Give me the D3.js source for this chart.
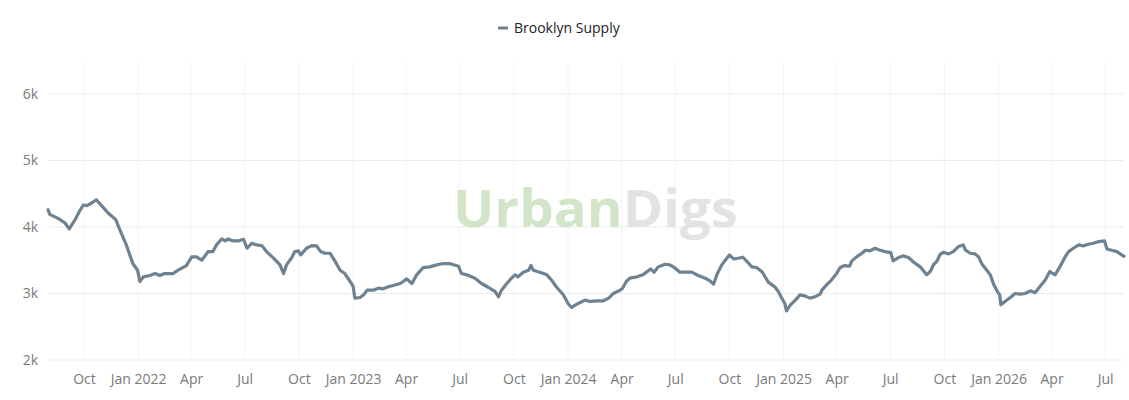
<!DOCTYPE html>
<html>
<head>
<meta charset="utf-8">
<script src="https://cdn.jsdelivr.net/npm/d3@7"></script>
<style>
    body { margin: 0; background: #fff; font-family: "Open Sans", sans-serif; }
    .axis text { fill: #7a7a7a; font-size: 14px; font-family: "Open Sans", sans-serif; }
    .legend text { fill: #222; font-size: 14px; }
</style>
</head>
<body>
<div id="chart"></div>
<script>
const seriesName = "Brooklyn Supply";

const dates2021 = ["2021-08-01","2021-08-04","2021-08-18","2021-08-30","2021-09-06","2021-09-16","2021-09-23","2021-09-30","2021-10-06","2021-10-14","2021-10-22","2021-10-31","2021-11-11","2021-11-24","2021-12-01","2021-12-12","2021-12-23","2021-12-31"];
const values2021 = [4260,4190,4130,4060,3970,4110,4230,4330,4320,4360,4410,4320,4210,4110,3955,3730,3450,3350];

const dates2022 = ["2022-01-04","2022-01-10","2022-01-21","2022-01-30","2022-02-07","2022-02-15","2022-03-01","2022-03-10","2022-03-24","2022-04-02","2022-04-10","2022-04-19","2022-04-30","2022-05-08","2022-05-14","2022-05-23","2022-05-29","2022-06-03","2022-06-11","2022-06-20","2022-06-29","2022-07-05","2022-07-13","2022-07-21","2022-07-30","2022-08-07","2022-08-18","2022-08-30","2022-09-05","2022-09-10","2022-09-19","2022-09-24","2022-09-30","2022-10-04","2022-10-14","2022-10-23","2022-10-31","2022-11-07","2022-11-14","2022-11-23","2022-12-01","2022-12-10","2022-12-18","2022-12-27"];
const values2022 = [3180,3250,3270,3300,3270,3300,3300,3350,3420,3550,3550,3500,3630,3630,3730,3820,3790,3820,3790,3790,3815,3680,3755,3730,3720,3630,3540,3430,3300,3430,3540,3630,3640,3580,3680,3720,3715,3630,3605,3605,3490,3350,3300,3180];

const dates2023 = ["2023-01-01","2023-01-04","2023-01-13","2023-01-19","2023-01-25","2023-02-04","2023-02-13","2023-02-21","2023-03-02","2023-03-10","2023-03-22","2023-03-27","2023-04-02","2023-04-11","2023-04-19","2023-04-30","2023-05-11","2023-05-23","2023-06-03","2023-06-14","2023-06-29","2023-07-04","2023-07-13","2023-07-27","2023-08-07","2023-08-19","2023-08-30","2023-09-05","2023-09-10","2023-09-19","2023-09-27","2023-10-03","2023-10-08","2023-10-17","2023-10-26","2023-10-30","2023-11-03","2023-11-14","2023-11-26","2023-12-04","2023-12-13","2023-12-24"];
const values2023 = [3110,2930,2940,2980,3050,3050,3080,3070,3100,3120,3150,3180,3220,3150,3280,3390,3400,3430,3450,3450,3410,3300,3280,3230,3150,3090,3030,2950,3050,3150,3230,3280,3250,3320,3350,3420,3350,3320,3280,3200,3090,2980];

const dates2024 = ["2024-01-01","2024-01-07","2024-01-16","2024-01-25","2024-01-30","2024-02-07","2024-02-19","2024-03-01","2024-03-10","2024-03-18","2024-03-27","2024-04-02","2024-04-09","2024-04-15","2024-04-27","2024-05-07","2024-05-16","2024-05-20","2024-05-26","2024-06-02","2024-06-14","2024-06-22","2024-07-01","2024-07-09","2024-07-18","2024-07-29","2024-08-09","2024-08-21","2024-08-29","2024-09-04","2024-09-10","2024-09-18","2024-09-24","2024-10-01","2024-10-08","2024-10-16","2024-10-24","2024-10-31","2024-11-08","2024-11-16","2024-11-25","2024-11-28","2024-12-06","2024-12-17","2024-12-23","2024-12-29"];
const values2024 = [2850,2790,2840,2880,2900,2880,2890,2890,2930,3000,3040,3070,3180,3230,3250,3280,3340,3370,3320,3400,3440,3430,3380,3320,3320,3320,3270,3230,3190,3140,3290,3430,3500,3580,3520,3530,3545,3480,3400,3390,3330,3290,3170,3100,3030,2930];

const dates2025 = ["2025-01-03","2025-01-06","2025-01-12","2025-01-21","2025-01-29","2025-02-07","2025-02-15","2025-02-23","2025-03-04","2025-03-07","2025-03-15","2025-03-24","2025-04-01","2025-04-07","2025-04-15","2025-04-23","2025-04-27","2025-05-05","2025-05-14","2025-05-20","2025-05-28","2025-06-05","2025-06-14","2025-06-22","2025-07-02","2025-07-06","2025-07-15","2025-07-23","2025-08-01","2025-08-10","2025-08-21","2025-09-01","2025-09-07","2025-09-13","2025-09-18","2025-09-24","2025-09-30","2025-10-08","2025-10-16","2025-10-25","2025-11-02","2025-11-06","2025-11-14","2025-11-22","2025-11-28","2025-12-04","2025-12-12","2025-12-18","2025-12-24","2025-12-30"];
const values2025 = [2850,2740,2820,2900,2980,2960,2930,2950,2990,3050,3130,3210,3300,3390,3420,3410,3490,3550,3605,3650,3640,3680,3650,3630,3615,3490,3540,3565,3540,3470,3400,3280,3330,3440,3480,3590,3620,3595,3630,3705,3730,3650,3605,3595,3550,3440,3350,3280,3130,3030];

const dates2026 = ["2026-01-03","2026-01-05","2026-01-12","2026-01-21","2026-01-29","2026-02-07","2026-02-15","2026-02-24","2026-03-04","2026-03-12","2026-03-21","2026-03-29","2026-04-07","2026-04-15","2026-04-24","2026-04-30","2026-05-08","2026-05-17","2026-05-25","2026-06-02","2026-06-11","2026-06-20","2026-06-30","2026-07-04","2026-07-12","2026-07-21","2026-07-29","2026-08-02"];
const values2026 = [2980,2830,2880,2940,3000,2990,3000,3040,3010,3100,3200,3330,3280,3400,3550,3630,3680,3730,3715,3740,3755,3780,3790,3670,3650,3630,3580,3560];

const yTicks = [2000, 3000, 4000, 5000, 6000];

document.addEventListener('DOMContentLoaded', function() {
    drawChart();
});

function drawChart() {
    const parse = d3.timeParse("%Y-%m-%d");
    const allDates = [].concat(dates2021, dates2022, dates2023, dates2024, dates2025, dates2026);
    const allValues = [].concat(values2021, values2022, values2023, values2024, values2025, values2026);
    const data = allDates.map((d, i) => ({date: parse(d), value: allValues[i]}));

    const width = 1129, height = 400;
    const margin = {top: 62, right: 5, bottom: 40, left: 48};
    const innerW = width - margin.left - margin.right;
    const innerH = height - margin.top - margin.bottom;

    const svg = d3.select("#chart").append("svg")
        .attr("width", width)
        .attr("height", height);

    const g = svg.append("g")
        .attr("transform", `translate(${margin.left},${margin.top})`);

    const x = d3.scaleTime()
        .domain(d3.extent(data, d => d.date))
        .range([0, innerW]);

    const y = d3.scaleLinear()
        .domain([2000, 6480])
        .range([innerH, 0]);

    const xTicks = x.ticks(d3.timeMonth.every(3));

    // grid
    g.append("g")
        .selectAll("line")
        .data(xTicks)
        .enter().append("line")
        .attr("x1", d => x(d)).attr("x2", d => x(d))
        .attr("y1", 0).attr("y2", innerH)
        .attr("stroke", "#f4f4f4")
        .attr("stroke-width", 1);

    g.append("g")
        .selectAll("line")
        .data(yTicks)
        .enter().append("line")
        .attr("x1", 0).attr("x2", innerW)
        .attr("y1", d => y(d)).attr("y2", d => y(d))
        .attr("stroke", "#ebebeb")
        .attr("stroke-width", 1);

    // axes
    const fmtX = d => d.getMonth() === 0 ? d3.timeFormat("%b %Y")(d) : d3.timeFormat("%b")(d);

    const xAxis = g.append("g")
        .attr("class", "axis")
        .attr("transform", `translate(0,${innerH})`)
        .call(d3.axisBottom(x).tickValues(xTicks).tickFormat(fmtX).tickSize(0).tickPadding(14));
    xAxis.select(".domain").remove();

    const yAxis = g.append("g")
        .attr("class", "axis")
        .call(d3.axisLeft(y).tickValues(yTicks).tickFormat(d => (d / 1000) + "k").tickSize(0).tickPadding(10));
    yAxis.select(".domain").remove();

    // watermark
    const wm = g.append("text")
        .attr("x", 453 - margin.left)
        .attr("y", 227 - margin.top)
        .attr("textLength", 285)
        .attr("lengthAdjust", "spacingAndGlyphs")
        .style("font-family", "'Open Sans', sans-serif")
        .style("font-weight", 700)
        .style("font-size", "52px");
    wm.append("tspan").attr("fill", "#d2e5c8").text("Urban");
    wm.append("tspan").attr("fill", "#e3e3e3").text("Digs");

    // line
    const line = d3.line()
        .x(d => x(d.date))
        .y(d => y(d.value));

    g.append("path")
        .datum(data)
        .attr("fill", "none")
        .attr("stroke", "#6e8291")
        .attr("stroke-width", 3.2)
        .attr("stroke-linejoin", "round")
        .attr("stroke-linecap", "round")
        .attr("d", line);

    // legend
    const legend = svg.append("g")
        .attr("class", "legend")
        .attr("transform", "translate(498,28)");
    legend.append("line")
        .attr("x1", 0).attr("x2", 10)
        .attr("y1", 0).attr("y2", 0)
        .attr("stroke", "#6e8291")
        .attr("stroke-width", 3);
    legend.append("text")
        .attr("x", 16)
        .attr("y", 5)
        .text(seriesName);
}
</script>
</body>
</html>
